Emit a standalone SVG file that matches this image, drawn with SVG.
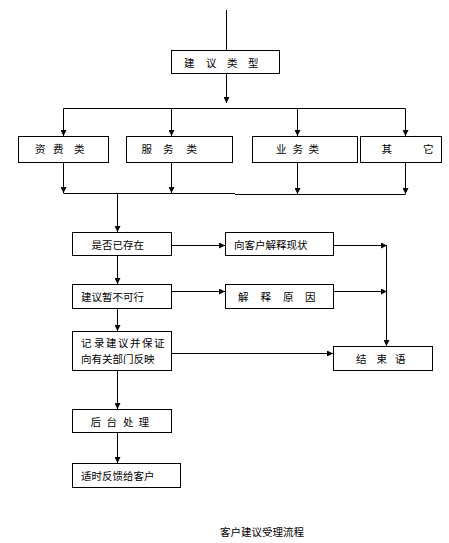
<svg xmlns="http://www.w3.org/2000/svg" width="449" height="543" viewBox="0 0 449 543">
<style>
rect.b{fill:#fff;stroke:#000;stroke-width:1}
text{font-family:"Noto Sans CJK SC","Noto Sans CJK TC",sans-serif;font-size:10.5px;fill:#000}
#connectors path{fill:none;stroke:#000;stroke-width:1}
path.a{marker-end:url(#ah)}
</style>
<defs>
<marker id="ah" markerUnits="userSpaceOnUse" markerWidth="7" markerHeight="6" refX="6" refY="3" orient="auto">
<path d="M0,0 L6,3 L0,6 z" fill="#000"/>
</marker>
</defs>
<rect width="449" height="543" fill="#fff"/>
<g id="connectors">
<path d="M226.5,10 V50"/>
<path class="a" d="M226.5,73 V103"/>
<path d="M63.5,108.5 H405.5"/>
<path class="a" d="M63.5,108.5 V136"/>
<path class="a" d="M171.5,108.5 V136"/>
<path class="a" d="M297.5,108.5 V136"/>
<path class="a" d="M405.5,108.5 V136"/>
<path class="a" d="M63.5,163 V193"/>
<path class="a" d="M171.5,163 V193"/>
<path class="a" d="M297.5,163 V194"/>
<path class="a" d="M405.5,163 V194"/>
<path d="M63.5,193.5 H235"/>
<path d="M235,194.5 H405.5"/>
<path class="a" d="M117.5,194 V232"/>
<path class="a" d="M171,245.5 H225"/>
<path class="a" d="M333,245.5 H387"/>
<path class="a" d="M386.5,245.5 V346"/>
<path class="a" d="M117.5,255 V284"/>
<path class="a" d="M171,291.5 H225"/>
<path class="a" d="M333,291.5 H387"/>
<path class="a" d="M117.5,308 V331"/>
<path class="a" d="M171,353.5 H333"/>
<path class="a" d="M117.5,370 V409"/>
<path class="a" d="M117.5,432 V463"/>
</g>
<g id="n-type"><rect class="b" x="171.5" y="50.5" width="108" height="23"/><text x="184 206 227 248" y="67">建议类型</text></g>
<g id="n-fee"><rect class="b" x="18.5" y="136.5" width="90" height="26"/><text x="35 53 74" y="153">资费类</text></g>
<g id="n-service"><rect class="b" x="126.5" y="136.5" width="106" height="26"/><text x="141.5 163 186.5" y="153">服务类</text></g>
<g id="n-business"><rect class="b" x="252.5" y="136.5" width="105" height="26"/><text x="276 292.5 308.5" y="153">业务类</text></g>
<g id="n-other"><rect class="b" x="360.5" y="136.5" width="81" height="26"/><text x="381.5 423" y="153">其它</text></g>
<g id="n-exists"><rect class="b" x="72.5" y="232.5" width="99" height="23"/><text x="91.5" y="249">是否已存在</text></g>
<g id="n-explain-status"><rect class="b" x="225.5" y="232.5" width="108" height="23"/><text x="234" y="249">向客户解释现状</text></g>
<g id="n-infeasible"><rect class="b" x="72.5" y="284.5" width="99" height="24"/><text x="81" y="301">建议暂不可行</text></g>
<g id="n-explain-reason"><rect class="b" x="225.5" y="284.5" width="108" height="24"/><text x="238 260.5 283 305" y="301">解释原因</text></g>
<g id="n-record"><rect class="b" x="72.5" y="331.5" width="99" height="39"/><text x="81 94 106 118 130 142 154" y="347">记录建议并保证</text><text x="81" y="363">向有关部门反映</text></g>
<g id="n-end"><rect class="b" x="333.5" y="346.5" width="99" height="24"/><text x="356 376.5 395" y="363">结束语</text></g>
<g id="n-backend"><rect class="b" x="72.5" y="409.5" width="99" height="23"/><text x="90.5 106.5 123 138.5" y="426">后台处理</text></g>
<g id="n-feedback"><rect class="b" x="72.5" y="463.5" width="108" height="24"/><text x="81" y="480">适时反馈给客户</text></g>
<text x="220" y="536">客户建议受理流程</text>
</svg>
